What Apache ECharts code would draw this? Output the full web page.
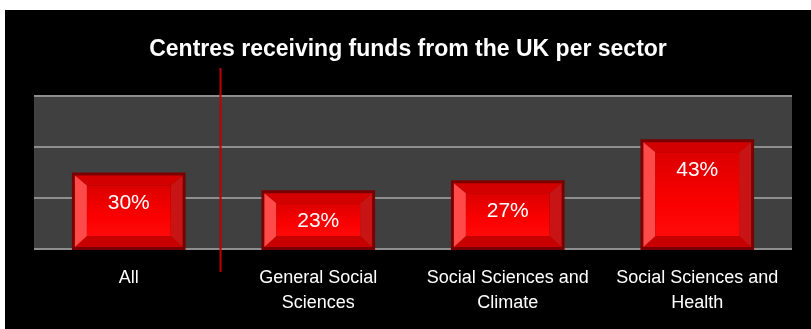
<!DOCTYPE html>
<html>
<head>
<meta charset="utf-8">
<script src="https://cdn.jsdelivr.net/npm/echarts@6/dist/echarts.min.js"></script>
<style>
  html, body { margin: 0; padding: 0; background: #ffffff; }
  #chart { position: absolute; left: 5px; top: 10px; width: 806px; height: 319px; background: #000000; }
</style>
</head>
<body>
<div id="chart"></div>
<script>
// Share of centres receiving UK funds, by sector
const categories = ['All', 'General Social\nSciences', 'Social Sciences and\nClimate', 'Social Sciences and\nHealth'];
const shares = [30, 23, 27, 43];
const titleText = 'Centres receiving funds from the UK per sector';

const chart = echarts.init(document.getElementById('chart'));

// Bevelled "button" bar: dark rim, four sloped edges and a bright face
function renderBevelBar(params, api) {
  const idx = api.value(0);
  const val = api.value(1);
  const top = api.coord([idx, val]);
  const base = api.coord([idx, 0]);
  const w = api.size([1, 0])[0] * 0.6;
  const x0 = top[0] - w / 2, x1 = top[0] + w / 2;
  const y0 = top[1], y1 = base[1] + 1;
  const r = 3;            // rim
  const b = 12;           // bevel depth
  const ix0 = x0 + r, ix1 = x1 - r, iy0 = y0 + r, iy1 = y1 - r;
  const fx0 = ix0 + b, fx1 = ix1 - b, fy0 = iy0 + 10, fy1 = iy1 - 11;
  const label = Math.round(val) + '%';
  return {
    type: 'group',
    children: [
      { type: 'rect', shape: { x: x0, y: y0, width: x1 - x0, height: y1 - y0 }, style: { fill: '#7a0000' } },
      { type: 'polygon', shape: { points: [[ix0, iy0], [ix1, iy0], [fx1, fy0], [fx0, fy0]] }, style: { fill: '#d30000' } },
      { type: 'polygon', shape: { points: [[ix0, iy1], [ix1, iy1], [fx1, fy1], [fx0, fy1]] }, style: { fill: '#c90000' } },
      { type: 'polygon', shape: { points: [[ix0, iy0], [fx0, fy0], [fx0, fy1], [ix0, iy1]] }, style: { fill: '#ff4a4a' } },
      { type: 'polygon', shape: { points: [[ix1, iy0], [fx1, fy0], [fx1, fy1], [ix1, iy1]] }, style: { fill: '#c81414' } },
      { type: 'rect', shape: { x: fx0, y: fy0, width: fx1 - fx0, height: fy1 - fy0 },
        style: { fill: new echarts.graphic.LinearGradient(0, 0, 0, 1, [
          { offset: 0, color: '#dc0000' }, { offset: 0.6, color: '#fa0000' }, { offset: 1, color: '#ff0a0a' }
        ]) } },
      { type: 'text', x: top[0], y: y0 + 31,
        style: { text: label, fill: '#ffffff', font: '21px "Liberation Sans", sans-serif', align: 'center', verticalAlign: 'middle' } }
    ]
  };
}

chart.setOption({
  backgroundColor: '#000000',
  animation: false,
  title: {
    text: titleText,
    left: 'center',
    top: 23,
    textStyle: { color: '#ffffff', fontSize: 23, fontWeight: 'bold', fontFamily: '"Liberation Sans", sans-serif' }
  },
  grid: { left: 29, right: 19, top: 86, bottom: 80, show: true, backgroundColor: '#404040', borderWidth: 0 },
  xAxis: {
    type: 'category',
    data: categories,
    axisLine: { show: false },
    axisTick: { show: false },
    axisLabel: { color: '#ffffff', fontSize: 18, lineHeight: 25, margin: 17, fontFamily: '"Liberation Sans", sans-serif', interval: 0 }
  },
  yAxis: {
    type: 'value',
    min: 0, max: 60, interval: 20,
    axisLabel: { show: false },
    axisLine: { show: false },
    axisTick: { show: false },
    splitLine: { lineStyle: { color: '#8e8e8e', width: 2 } }
  },
  series: [{
    type: 'custom',
    renderItem: renderBevelBar,
    encode: { x: 0, y: 1 },
    data: shares.map((v, i) => [i, v]),
    z: 3
  }],
  graphic: [{
    type: 'line',
    shape: { x1: 215.5, y1: 58, x2: 215.5, y2: 262 },
    style: { stroke: '#c00000', lineWidth: 2 },
    z: 10
  }]
});
</script>
</body>
</html>
